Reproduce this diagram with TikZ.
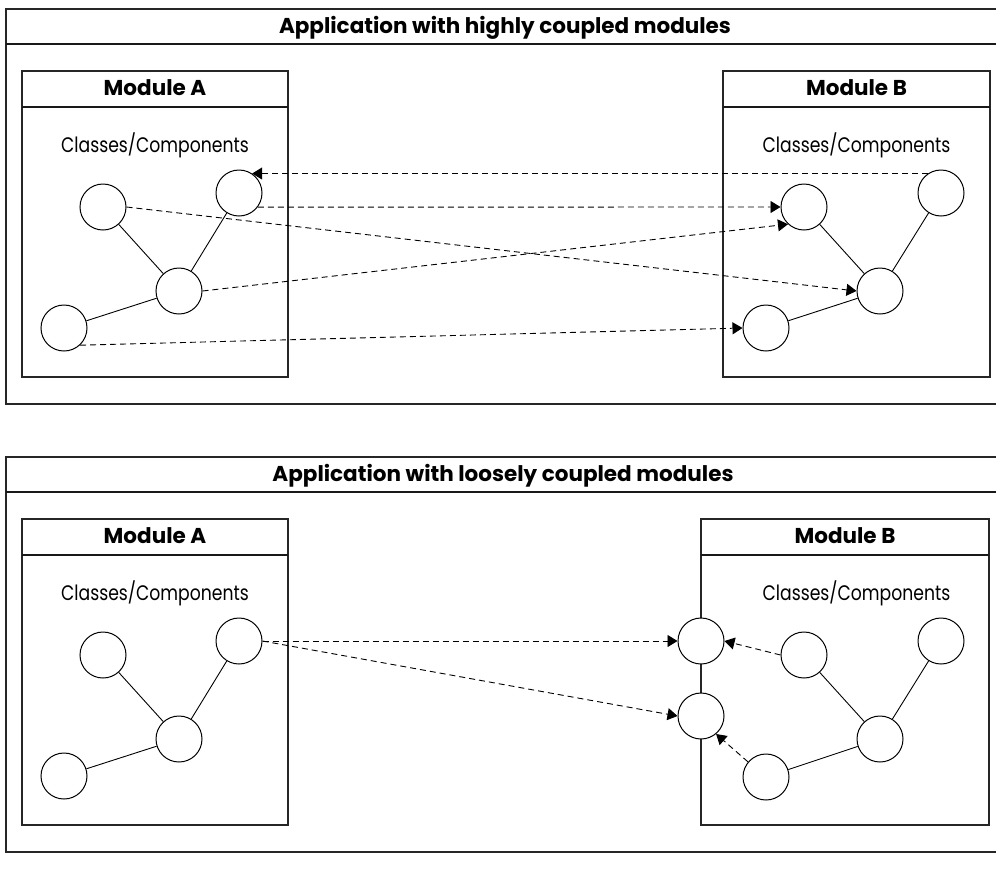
\documentclass[tikz,border=0pt]{standalone}
\usepackage{fontspec}
\setmainfont{Poppins}
\newfontfamily\subfont[FakeStretch=0.82]{Poppins}
\usetikzlibrary{arrows.meta}
\begin{document}
\begin{tikzpicture}[x=1pt,y=-1pt,
  comp/.style={circle,draw,line width=1pt,minimum size=46pt,inner sep=0pt,fill=white},
  link/.style={line width=0.9pt},
  dep/.style={dash pattern=on 6pt off 4pt,line width=0.9pt,-{Triangle[length=10pt,width=12pt]}},
  frame/.style={line width=1.2pt,draw=black!85},
  sepline/.style={line width=2pt,draw=black!90},
  ttl/.style={anchor=base,font=\fontsize{21.5}{24}\selectfont\bfseries},
  modt/.style={anchor=base,font=\fontsize{21.5}{24}\selectfont\bfseries},
  sub/.style={anchor=base,font=\fontsize{21}{24}\subfont}]
\useasboundingbox (0,0) rectangle (996,868);
\fill[white] (0,0) rectangle (996,868);

% ================= top panel =================
\draw[frame] (996,9) -- (6,9) -- (6,404) -- (996,404);
\draw[sepline] (6,44) -- (996,44);
\node[ttl] (t1) at (505,33) {Application with highly coupled modules};

\draw[frame] (22,71) rectangle (288,377);
\draw[sepline,line width=1.6pt] (22,107) -- (288,107);
\node[modt] (ma1) at (155,95) {Module A};
\node[sub] (ca1) at (155,152) {Classes/Components};

\draw[frame] (723,71) rectangle (990,377);
\draw[sepline,line width=1.6pt] (723,107) -- (990,107);
\node[modt] (mb1) at (856.5,95) {Module B};
\node[sub] (cb1) at (856.5,152) {Classes/Components};

\node[comp] (a1) at (103,207) {};
\node[comp] (a2) at (239,193) {};
\node[comp] (a3) at (179,291) {};
\node[comp] (a4) at (64,328) {};
\draw[link] (a1) -- (a3);
\draw[link] (a2) -- (a3);
\draw[link] (a3) -- (a4);

\node[comp] (b1) at (804,207) {};
\node[comp] (b2) at (941,193) {};
\node[comp] (b3) at (880,291) {};
\node[comp] (b4) at (766,328) {};
\draw[link] (b1) -- (b3);
\draw[link] (b2) -- (b3);
\draw[link] (b3) -- (b4);

\draw[dep] (b2.124) -- (a2.56);
\draw[dep] (a2.-37) -- (b1.west);
\draw[dep] (a1.east) -- (b3.west);
\draw[dep] (a3.east) -- (b1.227);
\draw[dep] (a4.-47) -- (b4.west);

% ================= bottom panel =================
\draw[frame] (996,457) -- (6,457) -- (6,852) -- (996,852);
\draw[sepline] (6,492) -- (996,492);
\node[ttl] (t2) at (503,481) {Application with loosely coupled modules};

\draw[frame] (22,519) rectangle (288,825);
\draw[sepline,line width=1.6pt] (22,555) -- (288,555);
\node[modt] (ma2) at (155,543) {Module A};
\node[sub] (ca2) at (155,600) {Classes/Components};

\draw[frame] (701,519) rectangle (989,825);
\draw[sepline,line width=1.6pt] (701,555) -- (989,555);
\node[modt] (mb2) at (845,543) {Module B};
\node[sub] (cb2) at (856.5,600) {Classes/Components};

\node[comp] (c1) at (103,655) {};
\node[comp] (c2) at (239,641) {};
\node[comp] (c3) at (179,739) {};
\node[comp] (c4) at (64,776) {};
\draw[link] (c1) -- (c3);
\draw[link] (c2) -- (c3);
\draw[link] (c3) -- (c4);

\node[comp] (d1) at (804,655) {};
\node[comp] (d2) at (941,641) {};
\node[comp] (d3) at (880,739) {};
\node[comp] (d4) at (766,777) {};
\draw[link] (d1) -- (d3);
\draw[link] (d2) -- (d3);
\draw[link] (d3) -- (d4);

\node[comp] (i1) at (701,641) {};
\node[comp] (i2) at (701,716) {};

\draw[dep] (c2.east) -- (i1.west);
\draw[dep] (c2.east) -- (i2.west);
\draw[dep] (d1.west) -- (i1.east);
\draw[dep] (d4.140) -- (i2.-50);
\end{tikzpicture}
\end{document}
